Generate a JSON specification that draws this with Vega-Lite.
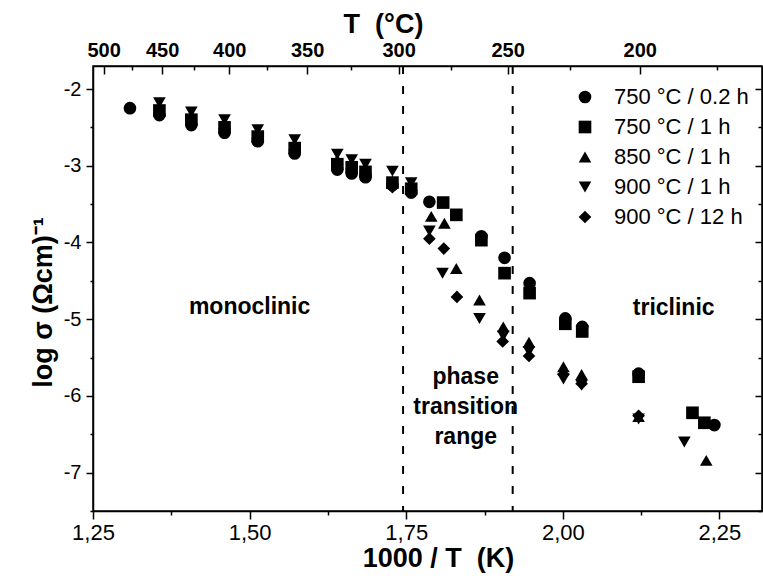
{
  "$schema": "https://vega.github.io/schema/vega-lite/v6.json",
  "autosize": {"type": "none"},
  "padding": {"left": 93, "top": 66, "right": 1, "bottom": 69},
  "width": 669,
  "height": 445,
  "config": {
    "font": "Liberation Sans",
    "view": {"stroke": "black", "strokeWidth": 1.5},
    "axis": {"domainColor": "black", "tickColor": "black", "labelColor": "black", "titleColor": "black", "grid": false, "domainWidth": 1.5, "tickWidth": 1.5}
  },
  "datasets": {
    "pts": [
      {"x": 1.309, "y": -2.25, "s": "750 °C / 0.2 h"},
      {"x": 1.356, "y": -2.34, "s": "750 °C / 0.2 h"},
      {"x": 1.407, "y": -2.47, "s": "750 °C / 0.2 h"},
      {"x": 1.460, "y": -2.57, "s": "750 °C / 0.2 h"},
      {"x": 1.513, "y": -2.68, "s": "750 °C / 0.2 h"},
      {"x": 1.572, "y": -2.84, "s": "750 °C / 0.2 h"},
      {"x": 1.640, "y": -3.05, "s": "750 °C / 0.2 h"},
      {"x": 1.663, "y": -3.10, "s": "750 °C / 0.2 h"},
      {"x": 1.685, "y": -3.15, "s": "750 °C / 0.2 h"},
      {"x": 1.728, "y": -3.25, "s": "750 °C / 0.2 h"},
      {"x": 1.758, "y": -3.35, "s": "750 °C / 0.2 h"},
      {"x": 1.787, "y": -3.47, "s": "750 °C / 0.2 h"},
      {"x": 1.870, "y": -3.92, "s": "750 °C / 0.2 h"},
      {"x": 1.907, "y": -4.20, "s": "750 °C / 0.2 h"},
      {"x": 1.947, "y": -4.53, "s": "750 °C / 0.2 h"},
      {"x": 2.004, "y": -4.99, "s": "750 °C / 0.2 h"},
      {"x": 2.031, "y": -5.10, "s": "750 °C / 0.2 h"},
      {"x": 2.121, "y": -5.71, "s": "750 °C / 0.2 h"},
      {"x": 2.242, "y": -6.38, "s": "750 °C / 0.2 h"},

      {"x": 1.356, "y": -2.28, "s": "750 °C / 1 h"},
      {"x": 1.407, "y": -2.40, "s": "750 °C / 1 h"},
      {"x": 1.460, "y": -2.50, "s": "750 °C / 1 h"},
      {"x": 1.513, "y": -2.62, "s": "750 °C / 1 h"},
      {"x": 1.572, "y": -2.77, "s": "750 °C / 1 h"},
      {"x": 1.640, "y": -2.98, "s": "750 °C / 1 h"},
      {"x": 1.663, "y": -3.02, "s": "750 °C / 1 h"},
      {"x": 1.685, "y": -3.08, "s": "750 °C / 1 h"},
      {"x": 1.728, "y": -3.22, "s": "750 °C / 1 h"},
      {"x": 1.758, "y": -3.30, "s": "750 °C / 1 h"},
      {"x": 1.809, "y": -3.48, "s": "750 °C / 1 h"},
      {"x": 1.830, "y": -3.64, "s": "750 °C / 1 h"},
      {"x": 1.870, "y": -3.97, "s": "750 °C / 1 h"},
      {"x": 1.907, "y": -4.40, "s": "750 °C / 1 h"},
      {"x": 1.947, "y": -4.66, "s": "750 °C / 1 h"},
      {"x": 2.004, "y": -5.06, "s": "750 °C / 1 h"},
      {"x": 2.031, "y": -5.16, "s": "750 °C / 1 h"},
      {"x": 2.121, "y": -5.75, "s": "750 °C / 1 h"},
      {"x": 2.207, "y": -6.22, "s": "750 °C / 1 h"},
      {"x": 2.226, "y": -6.35, "s": "750 °C / 1 h"},

      {"x": 1.407, "y": -2.35, "s": "850 °C / 1 h"},
      {"x": 1.460, "y": -2.45, "s": "850 °C / 1 h"},
      {"x": 1.513, "y": -2.58, "s": "850 °C / 1 h"},
      {"x": 1.572, "y": -2.72, "s": "850 °C / 1 h"},
      {"x": 1.640, "y": -2.92, "s": "850 °C / 1 h"},
      {"x": 1.663, "y": -2.97, "s": "850 °C / 1 h"},
      {"x": 1.685, "y": -3.03, "s": "850 °C / 1 h"},
      {"x": 1.728, "y": -3.20, "s": "850 °C / 1 h"},
      {"x": 1.758, "y": -3.25, "s": "850 °C / 1 h"},
      {"x": 1.790, "y": -3.66, "s": "850 °C / 1 h"},
      {"x": 1.811, "y": -3.75, "s": "850 °C / 1 h"},
      {"x": 1.830, "y": -4.34, "s": "850 °C / 1 h"},
      {"x": 1.867, "y": -4.75, "s": "850 °C / 1 h"},
      {"x": 1.905, "y": -5.10, "s": "850 °C / 1 h"},
      {"x": 1.946, "y": -5.30, "s": "850 °C / 1 h"},
      {"x": 2.001, "y": -5.62, "s": "850 °C / 1 h"},
      {"x": 2.030, "y": -5.72, "s": "850 °C / 1 h"},
      {"x": 2.121, "y": -6.27, "s": "850 °C / 1 h"},
      {"x": 2.229, "y": -6.84, "s": "850 °C / 1 h"},

      {"x": 1.356, "y": -2.18, "s": "900 °C / 1 h"},
      {"x": 1.407, "y": -2.30, "s": "900 °C / 1 h"},
      {"x": 1.460, "y": -2.40, "s": "900 °C / 1 h"},
      {"x": 1.513, "y": -2.53, "s": "900 °C / 1 h"},
      {"x": 1.572, "y": -2.66, "s": "900 °C / 1 h"},
      {"x": 1.640, "y": -2.85, "s": "900 °C / 1 h"},
      {"x": 1.663, "y": -2.92, "s": "900 °C / 1 h"},
      {"x": 1.685, "y": -2.98, "s": "900 °C / 1 h"},
      {"x": 1.728, "y": -3.07, "s": "900 °C / 1 h"},
      {"x": 1.758, "y": -3.22, "s": "900 °C / 1 h"},
      {"x": 1.787, "y": -3.85, "s": "900 °C / 1 h"},
      {"x": 1.808, "y": -4.40, "s": "900 °C / 1 h"},
      {"x": 1.867, "y": -4.99, "s": "900 °C / 1 h"},
      {"x": 1.905, "y": -5.22, "s": "900 °C / 1 h"},
      {"x": 1.946, "y": -5.42, "s": "900 °C / 1 h"},
      {"x": 2.001, "y": -5.78, "s": "900 °C / 1 h"},
      {"x": 2.030, "y": -5.86, "s": "900 °C / 1 h"},
      {"x": 2.121, "y": -6.30, "s": "900 °C / 1 h"},
      {"x": 2.194, "y": -6.60, "s": "900 °C / 1 h"},

      {"x": 1.407, "y": -2.45, "s": "900 °C / 12 h"},
      {"x": 1.460, "y": -2.53, "s": "900 °C / 12 h"},
      {"x": 1.513, "y": -2.64, "s": "900 °C / 12 h"},
      {"x": 1.572, "y": -2.80, "s": "900 °C / 12 h"},
      {"x": 1.640, "y": -3.02, "s": "900 °C / 12 h"},
      {"x": 1.663, "y": -3.07, "s": "900 °C / 12 h"},
      {"x": 1.685, "y": -3.12, "s": "900 °C / 12 h"},
      {"x": 1.728, "y": -3.28, "s": "900 °C / 12 h"},
      {"x": 1.758, "y": -3.32, "s": "900 °C / 12 h"},
      {"x": 1.787, "y": -3.95, "s": "900 °C / 12 h"},
      {"x": 1.810, "y": -4.08, "s": "900 °C / 12 h"},
      {"x": 1.831, "y": -4.71, "s": "900 °C / 12 h"},
      {"x": 1.904, "y": -5.29, "s": "900 °C / 12 h"},
      {"x": 1.946, "y": -5.48, "s": "900 °C / 12 h"},
      {"x": 2.001, "y": -5.72, "s": "900 °C / 12 h"},
      {"x": 2.030, "y": -5.84, "s": "900 °C / 12 h"},
      {"x": 2.121, "y": -6.26, "s": "900 °C / 12 h"}
    ]
  },
  "layer": [
    {
      "layer": [
        {
          "data": {"values": [{}]},
          "mark": {"type": "rule", "strokeDash": [8, 12], "strokeWidth": 2, "color": "black"},
          "encoding": {"x": {"datum": 1.745, "type": "quantitative"}}
        },
        {
          "data": {"values": [{}]},
          "mark": {"type": "rule", "strokeDash": [8, 12], "strokeWidth": 2, "color": "black"},
          "encoding": {"x": {"datum": 1.92, "type": "quantitative"}}
        },
        {
          "data": {"values": [{}]},
          "mark": {"type": "text", "fontSize": 23, "fontWeight": "bold", "font": "Liberation Sans"},
          "encoding": {
            "x": {"datum": 1.50, "type": "quantitative"},
            "y": {"datum": -4.84, "type": "quantitative"},
            "text": {"value": "monoclinic"}
          }
        },
        {
          "data": {"values": [{}]},
          "mark": {"type": "text", "fontSize": 23, "fontWeight": "bold", "font": "Liberation Sans"},
          "encoding": {
            "x": {"datum": 2.177, "type": "quantitative"},
            "y": {"datum": -4.85, "type": "quantitative"},
            "text": {"value": "triclinic"}
          }
        },
        {
          "data": {"values": [{}]},
          "mark": {"type": "text", "fontSize": 23, "fontWeight": "bold", "font": "Liberation Sans", "lineHeight": 30},
          "encoding": {
            "x": {"datum": 1.845, "type": "quantitative"},
            "y": {"datum": -5.75, "type": "quantitative"},
            "text": {"value": ["phase", "transition", "range"]}
          }
        },
        {
          "data": {"name": "pts"},
          "mark": {"type": "point", "filled": true, "opacity": 1, "size": 160, "color": "black"},
          "encoding": {
            "x": {
              "field": "x", "type": "quantitative",
              "scale": {"domain": [1.25, 2.318], "nice": false, "zero": false},
              "axis": {
                "orient": "bottom",
                "values": [1.25, 1.375, 1.5, 1.625, 1.75, 1.875, 2.0, 2.125, 2.25],
                "labelExpr": "datum.value*4 == round(datum.value*4) ? replace(format(datum.value, '.2f'), '.', ',') : ''",
                "tickSize": {"condition": {"test": "datum.value*4 == round(datum.value*4)", "value": 8}, "value": 4},
                "labelFontSize": 22, "labelPadding": 3, "labelFlush": false,
                "title": "1000 / T\u00a0\u00a0(K)", "titleFontSize": 27, "titleFontWeight": "bold", "titlePadding": 2, "titleX": 345
              }
            },
            "y": {
              "field": "y", "type": "quantitative",
              "scale": {"domain": [-7.5, -1.7], "nice": false, "zero": false},
              "axis": {
                "values": [-7.5, -7, -6.5, -6, -5.5, -5, -4.5, -4, -3.5, -3, -2.5, -2],
                "labelExpr": "datum.value == round(datum.value) ? toString(datum.value) : ''",
                "tickSize": {"condition": {"test": "datum.value == round(datum.value)", "value": 7}, "value": 3},
                "labelFontSize": 20, "labelPadding": 5,
                "title": "log σ (Ωcm)⁻¹", "titleFontSize": 27, "titleFontWeight": "bold", "titlePadding": 6, "titleY": 236
              }
            },
            "shape": {
              "field": "s", "type": "nominal",
              "scale": {
                "domain": ["750 °C / 0.2 h", "750 °C / 1 h", "850 °C / 1 h", "900 °C / 1 h", "900 °C / 12 h"],
                "range": ["circle", "square", "triangle-up", "triangle-down", "diamond"]
              },
              "legend": {
                "title": null, "orient": "none", "legendX": 481, "legendY": 20,
                "labelFontSize": 22, "labelOffset": 18, "symbolSize": 160, "symbolFillColor": "black", "symbolStrokeColor": "black",
                "rowPadding": 8, "padding": 0, "labelColor": "black"
              }
            }
          }
        }
      ]
    },
    {
      "data": {"name": "pts"},
      "mark": {"type": "point", "opacity": 0},
      "encoding": {
        "x": {
          "field": "x", "type": "quantitative",
          "scale": {"domain": [1.2771, 2.3006], "nice": false, "zero": false},
          "axis": {
            "orient": "top",
            "values": [1.29341, 1.33663, 1.38284, 1.43236, 1.48555, 1.54285, 1.60475, 1.67182, 1.74474, 1.82432, 1.91150, 2.00743, 2.11349, 2.23140],
            "labelExpr": "round(1000/datum.value - 273.15) % 50 == 0 ? toString(round(1000/datum.value - 273.15)) : ''",
            "tickSize": {"condition": {"test": "round(1000/datum.value - 273.15) % 50 == 0", "value": -8}, "value": -4},
            "labelFontSize": 20, "labelFontWeight": "bold", "labelPadding": 14,
            "title": "T\u00a0\u00a0(°C)", "titleFontSize": 27, "titleFontWeight": "bold", "titlePadding": 2, "titleX": 290
          }
        },
        "y": {
          "field": "y", "type": "quantitative",
          "scale": {"domain": [-7.5, -1.7], "nice": false, "zero": false},
          "axis": {
            "orient": "right",
            "values": [-7.5, -7, -6.5, -6, -5.5, -5, -4.5, -4, -3.5, -3, -2.5, -2],
            "labels": false,
            "tickSize": {"condition": {"test": "datum.value == round(datum.value)", "value": -7}, "value": -4},
            "title": null
          }
        }
      }
    }
  ],
  "resolve": {"scale": {"x": "independent"}, "axis": {"x": "independent", "y": "independent"}}
}
